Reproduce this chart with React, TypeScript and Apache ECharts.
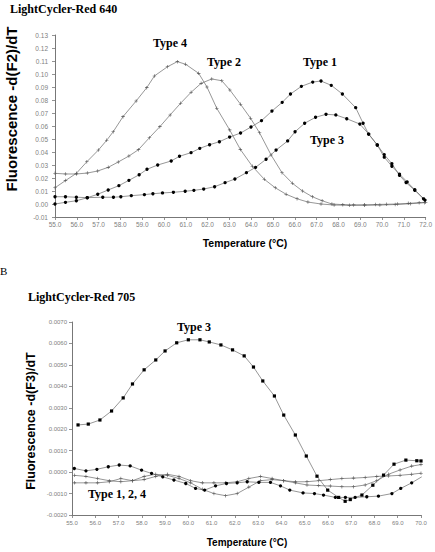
import React, { useEffect, useRef } from "react";
import * as echarts from "echarts";

// ---------- Panel A : LightCycler-Red 640 ----------
const topXTicks = [55, 72];
const topYRange = [-0.01, 0.13];

const aType1T = [55.0, 55.48, 55.98, 56.48, 56.96, 57.44, 57.93, 58.39, 58.86, 59.22, 59.71, 60.33, 60.71, 61.24, 61.64, 62.09, 62.54, 63.01, 63.51, 63.99, 64.47, 64.95, 65.42, 65.8, 66.3, 66.82, 67.2, 67.67, 68.18, 68.79, 69.13, 69.38, 69.78, 70.1, 70.45, 70.8, 71.1, 71.5, 71.97];
const aType1V = [0.0, 0.0013, 0.0025, 0.0048, 0.0075, 0.0108, 0.0141, 0.0182, 0.0225, 0.0267, 0.03, 0.0331, 0.0367, 0.0395, 0.0428, 0.0456, 0.0479, 0.0515, 0.0546, 0.0592, 0.0641, 0.0715, 0.0782, 0.0846, 0.0905, 0.0938, 0.0946, 0.0913, 0.0846, 0.0741, 0.0621, 0.0538, 0.0454, 0.038, 0.031, 0.022, 0.0165, 0.0105, 0.003];

const aType3T = [55.0, 55.48, 55.98, 56.48, 57.19, 57.68, 58.02, 58.5, 59.1, 59.49, 59.93, 60.43, 60.97, 61.37, 61.82, 62.32, 62.8, 63.25, 63.78, 64.2, 64.68, 65.14, 65.67, 66.01, 66.45, 66.95, 67.43, 67.88, 68.38, 68.98, 69.39, 69.78, 70.1, 70.45, 70.8, 71.15, 71.5, 71.9];
const aType3V = [0.0056, 0.0056, 0.0052, 0.0049, 0.0052, 0.0052, 0.0056, 0.0064, 0.0072, 0.0079, 0.0085, 0.009, 0.0098, 0.0105, 0.0115, 0.0133, 0.0164, 0.0192, 0.0241, 0.0282, 0.0344, 0.0415, 0.0485, 0.0556, 0.0621, 0.0667, 0.069, 0.0685, 0.0656, 0.0615, 0.0538, 0.0454, 0.036, 0.029, 0.023, 0.017, 0.011, 0.004];

const aType2T = [55.0, 55.48, 55.98, 56.48, 56.96, 57.44, 57.9, 58.39, 58.83, 59.33, 59.81, 60.28, 60.76, 61.24, 61.7, 62.19, 62.65, 63.02, 63.51, 63.97, 64.38, 64.91, 65.41, 65.89, 66.35, 66.8, 67.25, 67.7, 68.2, 68.7, 69.2, 69.7, 70.2, 70.7, 71.2, 71.7, 72.0];
const aType2V = [0.0236, 0.0231, 0.0231, 0.0238, 0.0254, 0.0282, 0.0323, 0.0369, 0.0418, 0.051, 0.0595, 0.0685, 0.0775, 0.0859, 0.0928, 0.0962, 0.0948, 0.0877, 0.0767, 0.0659, 0.0548, 0.0377, 0.0241, 0.0159, 0.01, 0.0056, 0.0025, 0.0, -0.0005, -0.0007, -0.0006, -0.0004, -0.0002, 0.0, 0.0005, 0.001, 0.0013];

const aType4T = [55.0, 55.48, 55.98, 56.46, 56.99, 57.37, 57.67, 58.12, 58.72, 59.21, 59.56, 60.16, 60.61, 60.99, 61.59, 61.97, 62.42, 63.01, 63.5, 64.05, 64.6, 65.1, 65.6, 66.1, 66.6, 67.2, 67.8, 68.5, 69.2, 69.9, 70.6, 71.3, 71.95];
const aType4V = [0.0125, 0.018, 0.0236, 0.0325, 0.0415, 0.049, 0.0556, 0.0672, 0.0792, 0.0895, 0.0985, 0.1056, 0.1095, 0.1075, 0.1005, 0.09, 0.0736, 0.057, 0.042, 0.029, 0.019, 0.0125, 0.0075, 0.004, 0.0015, 0.0, -0.0008, -0.001, -0.001, -0.0008, -0.0004, 0.0002, 0.001];

// ---------- Panel B : LightCycler-Red 705 ----------
const botXTicks = [55, 70];
const botYRange = [-0.002, 0.007];

const bType3T = [55.26, 55.7, 56.2, 56.7, 57.2, 57.6, 58.1, 58.6, 59.0, 59.5, 60.0, 60.5, 60.9, 61.4, 61.9, 62.4, 62.8, 63.2, 63.7, 64.1, 64.6, 65.07, 65.53, 65.99, 66.46, 66.74, 66.96, 67.46, 67.93, 68.39, 68.84, 69.35, 69.82, 70.0];
const bType3V = [0.0022, 0.00224, 0.00243, 0.00285, 0.00346, 0.00411, 0.00477, 0.00523, 0.00565, 0.00603, 0.00617, 0.00617, 0.00607, 0.00593, 0.0057, 0.00542, 0.0049, 0.00425, 0.00355, 0.00266, 0.00173, 0.00075, -0.00019, -0.00084, -0.00118, -0.00136, -0.00128, -0.00107, -0.00061, -0.00014, 0.00037, 0.00056, 0.00053, 0.00052];

const bType1T = [55.1, 55.6, 56.07, 56.56, 57.03, 57.5, 57.99, 58.42, 58.9, 59.38, 59.89, 60.31, 60.7, 61.17, 61.64, 62.1, 62.53, 63.03, 63.53, 63.96, 64.36, 64.93, 65.42, 65.81, 66.32, 66.75, 67.17, 67.67, 68.17, 68.75, 69.13, 69.6, 70.03];
const bType1V = [0.00017, 0.00006, 0.00013, 0.00025, 0.00033, 0.00029, 0.00009, -0.00006, -0.00022, -0.00037, -0.00053, -0.00076, -0.00084, -0.00064, -0.00053, -0.0005, -0.00045, -0.00048, -0.00048, -0.00064, -0.00084, -0.00097, -0.001, -0.00107, -0.00118, -0.00118, -0.00118, -0.00115, -0.00112, -0.001, -0.00076, -0.0005, -0.00022];

const bType2T = [55.1, 55.6, 56.1, 56.6, 57.1, 57.6, 58.1, 58.6, 59.1, 59.6, 60.1, 60.6, 61.1, 61.6, 62.1, 62.6, 63.1, 63.6, 64.1, 64.6, 65.1, 65.6, 66.1, 66.6, 67.1, 67.6, 68.1, 68.6, 69.1, 69.6, 70.0];
const bType2V = [-0.00015, -0.0002, -0.0003, -0.0004, -0.00045, -0.0004, -0.0002, -0.0001, -0.00015, -0.0003, -0.0005, -0.0008, -0.001, -0.0011, -0.001, -0.0007, -0.0004, -0.00035, -0.0004, -0.0005, -0.0006, -0.00063, -0.00065, -0.00068, -0.00068, -0.0006, -0.0004, -0.0001, 0.0001, 0.00028, 0.00035];

const bType4T = [55.1, 55.6, 56.1, 56.6, 57.1, 57.6, 58.1, 58.6, 59.1, 59.6, 60.1, 60.6, 61.1, 61.6, 62.1, 62.6, 63.1, 63.6, 64.1, 64.6, 65.1, 65.6, 66.1, 66.6, 67.1, 67.6, 68.1, 68.6, 69.1, 69.6, 70.0];
const bType4V = [-0.0005, -0.0005, -0.0005, -0.00045, -0.0003, -0.0004, -0.00035, -0.0002, -0.0001, -0.0002, -0.0004, -0.0005, -0.0005, -0.0005, -0.00045, -0.0003, -0.0002, -0.0003, -0.0004, -0.00045, -0.00045, -0.0004, -0.00035, -0.0003, -0.00028, -0.00025, -0.0002, -0.00018, -0.00015, -0.0001, -0.00005];

const zip = (t: number[], v: number[]) => t.map((x, i) => [x, v[i]]);

const CROSS = "path://M-0.5,-3H0.5V-0.5H3V0.5H0.5V3H-0.5V0.5H-3V-0.5H-0.5Z";
const LABEL_FONT = '"Liberation Sans", Arial, sans-serif';
const SERIF = '"Liberation Serif", "Times New Roman", serif';

function lineSeries(name: string, data: number[][], idx: number, symbol: string, size: number, symColor: string) {
  return {
    type: "line",
    name,
    xAxisIndex: idx,
    yAxisIndex: idx,
    data,
    symbol,
    symbolSize: size,
    showSymbol: true,
    itemStyle: { color: symColor, borderWidth: 0 },
    lineStyle: { color: "#6a6a6a", width: 0.7 },
    z: 3,
  };
}

function axisCommon(fontSize: number, margin: number) {
  return {
    axisLine: { show: true, onZero: false, lineStyle: { color: "#777", width: 1 } },
    axisTick: { show: true, length: 3, lineStyle: { color: "#777", width: 0.8 } },
    splitLine: { show: false },
    axisLabel: { color: "#808080", fontSize, fontFamily: LABEL_FONT, margin },
  };
}

function text(t: string, x: number, y: number, font: string, align = "left", rotation = 0) {
  return {
    type: "text",
    x,
    y,
    rotation,
    style: { text: t, font, fill: "#000", align, verticalAlign: "middle" },
  };
}

export default function App() {
  const ref = useRef<HTMLDivElement>(null);
  useEffect(() => {
    if (!ref.current) return;
    const chart = echarts.init(ref.current, null, { renderer: "svg" });
    chart.setOption({
      animation: false,
      backgroundColor: "#fff",
      grid: [
        { left: 55, top: 35, width: 377, height: 182 },
        { left: 72, top: 322, width: 349, height: 193 },
      ],
      xAxis: [
        {
          type: "value",
          gridIndex: 0,
          min: topXTicks[0],
          max: topXTicks[1],
          interval: 1,
          ...axisCommon(6.5, 4),
          axisLabel: { ...axisCommon(6.5, 4).axisLabel, formatter: (v: number) => v.toFixed(1) },
        },
        {
          type: "value",
          gridIndex: 1,
          min: botXTicks[0],
          max: botXTicks[1],
          interval: 1,
          ...axisCommon(6, 5),
          axisLabel: { ...axisCommon(6, 5).axisLabel, formatter: (v: number) => v.toFixed(1) },
        },
      ],
      yAxis: [
        {
          type: "value",
          gridIndex: 0,
          min: topYRange[0],
          max: topYRange[1],
          interval: 0.01,
          ...axisCommon(6.5, 7),
          axisLabel: { ...axisCommon(6.5, 7).axisLabel, formatter: (v: number) => v.toFixed(2) },
        },
        {
          type: "value",
          gridIndex: 1,
          min: botYRange[0],
          max: botYRange[1],
          interval: 0.001,
          ...axisCommon(6, 5),
          axisLabel: { ...axisCommon(6, 5).axisLabel, formatter: (v: number) => v.toFixed(4) },
        },
      ],
      series: [
        lineSeries("Type 2", zip(aType2T, aType2V), 0, CROSS, 3.5, "#555"),
        lineSeries("Type 4", zip(aType4T, aType4V), 0, CROSS, 3.5, "#555"),
        lineSeries("Type 3", zip(aType3T, aType3V), 0, "circle", 3.3, "#000"),
        lineSeries("Type 1", zip(aType1T, aType1V), 0, "circle", 3.3, "#000"),
        lineSeries("Type 2 B", zip(bType2T, bType2V), 1, CROSS, 3.5, "#555"),
        lineSeries("Type 4 B", zip(bType4T, bType4V), 1, CROSS, 3.5, "#555"),
        lineSeries("Type 1 B", zip(bType1T, bType1V), 1, "circle", 3.3, "#000"),
        lineSeries("Type 3 B", zip(bType3T, bType3V), 1, "rect", 3.2, "#000"),
      ],
      graphic: [
        text("LightCycler-Red 640", 10, 9, `bold 12px ${SERIF}`),
        text("B", 0, 271, `11px ${SERIF}`),
        text("LightCycler-Red 705", 28, 297, `bold 12px ${SERIF}`),
        text("Type 4", 153, 43, `bold 12px ${SERIF}`),
        text("Type 2", 207, 62, `bold 12px ${SERIF}`),
        text("Type 1", 303, 62, `bold 12px ${SERIF}`),
        text("Type 3", 310, 140, `bold 12px ${SERIF}`),
        text("Type 3", 177, 327, `bold 12px ${SERIF}`),
        text("Type 1, 2, 4", 88, 494, `bold 12px ${SERIF}`),
        text("Fluorescence -d(F2)/dT", 11, 109, `bold 15px ${LABEL_FONT}`, "center", Math.PI / 2),
        text("Temperature (°C)", 245, 243, `bold 10.5px ${LABEL_FONT}`, "center"),
        text("Fluorescence -d(F3)/dT", 31, 421, `bold 12.5px ${LABEL_FONT}`, "center", Math.PI / 2),
        text("Temperature (°C)", 247, 542, `bold 10px ${LABEL_FONT}`, "center"),
      ],
    });
    return () => chart.dispose();
  }, []);
  return <div ref={ref} style={{ position: "absolute", left: 0, top: 0, width: 435, height: 552 }} />;
}
